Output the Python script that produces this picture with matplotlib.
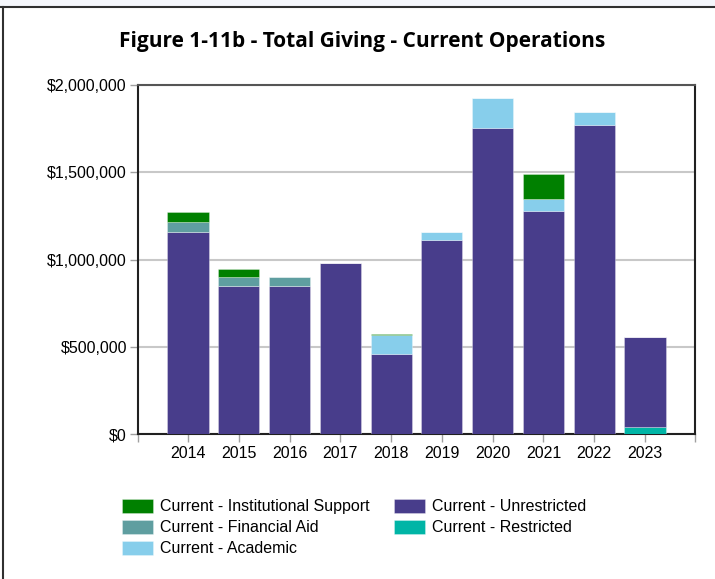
import numpy as np
import matplotlib
matplotlib.use("Agg")
from matplotlib import pyplot as plt
from matplotlib.lines import Line2D
from matplotlib.patches import Rectangle
from matplotlib.ticker import FuncFormatter

# Data
years = ['2014', '2015', '2016', '2017', '2018', '2019', '2020', '2021', '2022', '2023']
restricted = [0, 0, 0, 0, 0, 0, 0, 0, 0, 38000]
unrestricted = [1159000, 850000, 846000, 980000, 457000, 1112000, 1755000, 1280000, 1769000, 518000]
academic = [0, 0, 0, 0, 109000, 44000, 171000, 65000, 76000, 0]
financial_aid = [56000, 50000, 52000, 0, 0, 0, 0, 0, 0, 0]
institutional = [55000, 44000, 3000, 0, 7000, 0, 0, 145000, 0, 0]

# stacking order bottom -> top
series = [
    ('Current - Restricted', restricted, '#00b5a6'),
    ('Current - Unrestricted', unrestricted, '#483d8b'),
    ('Current - Academic', academic, '#87ceeb'),
    ('Current - Financial Aid', financial_aid, '#5f9ea0'),
    ('Current - Institutional Support', institutional, '#008000'),
]

plt.rcParams['font.family'] = ['Liberation Sans', 'DejaVu Sans']

W, H = 715, 579
fig = plt.figure(figsize=(W / 100, H / 100), dpi=100)

# frame of the report page
fig.add_artist(Rectangle((0, 1 - 6 / H), 1, 6 / H, transform=fig.transFigure,
                         facecolor='#f5f7fc', edgecolor='none'))
fig.add_artist(Line2D([0, 1], [1 - 6.5 / H, 1 - 6.5 / H], transform=fig.transFigure,
                      color='#303030', linewidth=1.5))
fig.add_artist(Line2D([2.5 / W, 2.5 / W], [0, 1 - 6.5 / H], transform=fig.transFigure,
                      color='#303030', linewidth=1.5))

ax = fig.add_axes([138 / W, 1 - 434 / H, (695 - 138) / W, (434 - 85) / H])

x = np.arange(len(years))
bottom = np.zeros(len(years))
handles = {}
for name, vals, color in series:
    vals = np.array(vals, dtype=float)
    b = ax.bar(x, vals, width=0.81, bottom=bottom, color=color,
               edgecolor=(1, 1, 1, 0.35), linewidth=0.6, zorder=3, label=name)
    handles[name] = b
    bottom += vals

ax.set_xlim(-0.985, 9.985)
ax.set_ylim(0, 2000000)
ax.set_yticks([0, 500000, 1000000, 1500000, 2000000])
ax.yaxis.set_major_formatter(FuncFormatter(lambda v, p: '${:,.0f}'.format(v)))
ax.set_xticks(list(x) + [-0.985, 9.985])
ax.set_xticklabels(years + ['', ''])
ax.tick_params(axis='both', labelsize=11.5, colors='#a0a0a0', length=6, width=1, labelcolor='black')
ax.tick_params(axis='x', pad=3)
ax.tick_params(axis='y', pad=2)
ax.grid(axis='y', color='#c8c8c8', linewidth=1.5, zorder=0)
for s in ax.spines.values():
    s.set_color('#202020')
    s.set_linewidth(1.5)
ax.spines['top'].set_color('#555555')

fig.text(362 / W, 1 - 41 / H, 'Figure 1-11b - Total Giving - Current Operations',
         ha='center', va='center', fontsize=15, fontweight='bold', family='Open Sans')

order = ['Current - Institutional Support', 'Current - Financial Aid', 'Current - Academic',
         'Current - Unrestricted', 'Current - Restricted']
fig.legend([handles[n] for n in order], order, ncol=2, loc='upper left',
           bbox_to_anchor=(117 / W, 1 - 494 / H), frameon=False, fontsize=11.5,
           handlelength=1.95, handleheight=0.95, handletextpad=0.45,
           columnspacing=1.5, labelspacing=0.36, borderaxespad=0, borderpad=0.3)

fig.savefig('out.png', dpi=100)
